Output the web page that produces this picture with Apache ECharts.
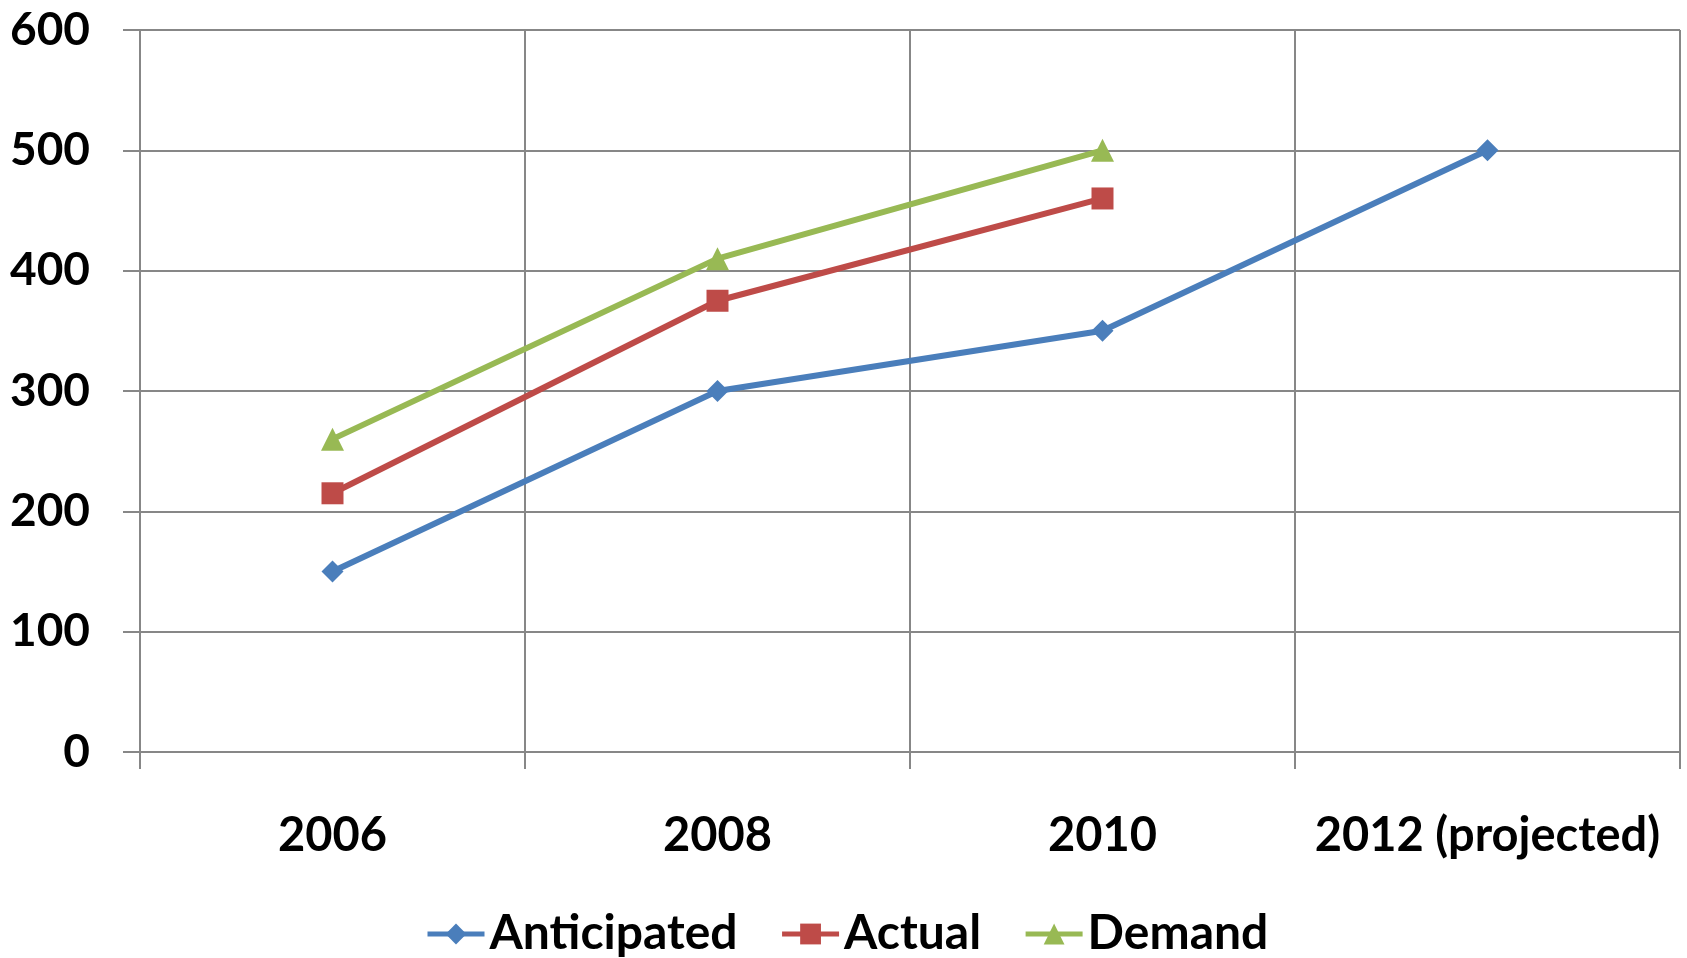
<!DOCTYPE html>
<html>
<head>
<meta charset="utf-8">
<script src="https://cdn.jsdelivr.net/npm/echarts@6/dist/echarts.min.js"></script>
<style>
html,body{margin:0;padding:0;background:#fff;}
#chart{width:1687px;height:958px;}
</style>
</head>
<body>
<div id="chart"></div>
<script>
const categories = ['2006', '2008', '2010', '2012 (projected)'];
const anticipated = [150, 300, 350, 500];
const actual = [215, 375, 460, null];
const demand = [260, 410, 500, null];
const yTicks = [0, 100, 200, 300, 400, 500, 600];

const FONT = 'Lato';
const gridColor = '#878787';
const chart = echarts.init(document.getElementById('chart'));
chart.setOption({
  animation: false,
  backgroundColor: '#fff',
  grid: { left: 140, right: 7, top: 30, bottom: 206 },
  legend: {
    left: 420, top: 905,
    itemWidth: 57, itemHeight: 26, itemGap: 42,
    lineStyle: { width: 5 },
    textStyle: { fontFamily: FONT, fontWeight: 'bold', fontSize: 48, color: '#000' },
    data: ['Anticipated', 'Actual', 'Demand']
  },
  xAxis: {
    type: 'category',
    data: categories,
    boundaryGap: true,
    axisLine: { show: true, lineStyle: { color: gridColor, width: 2 } },
    axisTick: { show: true, interval: 0, length: 17, lineStyle: { color: gridColor, width: 2 } },
    splitLine: { show: true, interval: 0, lineStyle: { color: gridColor, width: 2 } },
    axisLabel: { interval: 0, margin: 60, fontFamily: FONT, fontWeight: 'bold', fontSize: 47, color: '#000' }
  },
  yAxis: {
    type: 'value',
    min: yTicks[0], max: yTicks[yTicks.length - 1], interval: 100,
    axisLine: { show: true, lineStyle: { color: gridColor, width: 2 } },
    axisTick: { show: true, length: 17, lineStyle: { color: gridColor, width: 2 } },
    splitLine: { show: true, lineStyle: { color: gridColor, width: 2 } },
    axisLabel: { margin: 50, fontFamily: FONT, fontWeight: 'bold', fontSize: 46, color: '#000' }
  },
  series: [
    { name: 'Anticipated', type: 'line', data: anticipated, symbol: 'diamond', symbolSize: 22,
      lineStyle: { color: '#4A7EBB', width: 6 }, itemStyle: { color: '#4A7EBB' } },
    { name: 'Actual', type: 'line', data: actual, symbol: 'rect', symbolSize: 22,
      lineStyle: { color: '#BE4B48', width: 6 }, itemStyle: { color: '#BE4B48' } },
    { name: 'Demand', type: 'line', data: demand, symbol: 'triangle', symbolSize: 23,
      lineStyle: { color: '#98B954', width: 6 }, itemStyle: { color: '#98B954' } }
  ]
});
</script>
</body>
</html>
